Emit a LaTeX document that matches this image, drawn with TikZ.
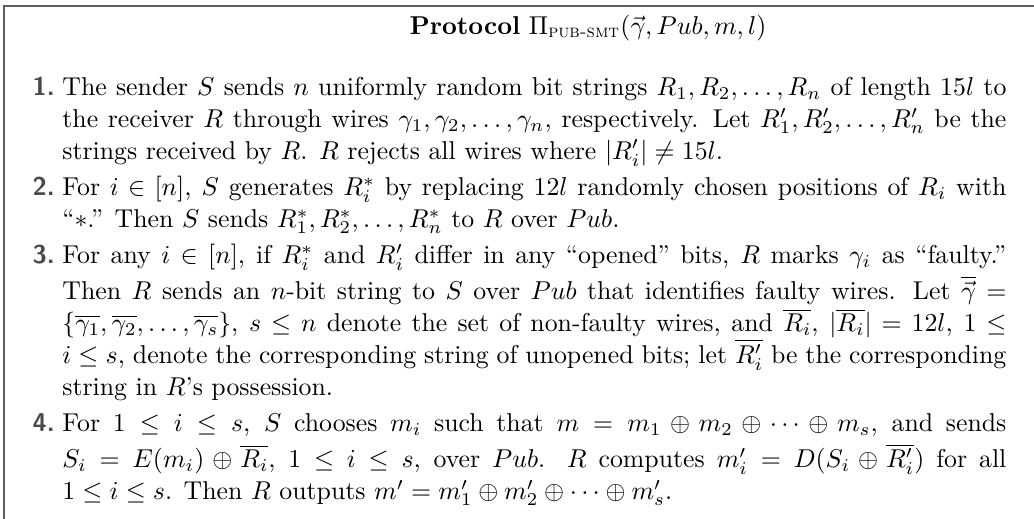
\documentclass[tikz,border=0pt]{standalone}
\usepackage{amsmath}
\usetikzlibrary{positioning}
\definecolor{framegray}{HTML}{5E5E5E}
\definecolor{labelgray}{HTML}{4A4A4A}
\newcommand{\stepnum}[1]{\llap{\textcolor{labelgray}{\textsf{\bfseries #1.}}\hspace{3pt}}}
\newcommand{\pubsmt}{\Pi_{\text{\scshape pub-smt}}}

\begin{document}
\begin{tikzpicture}[
  x=1pt, y=1pt,
  frame/.style={draw=framegray, line width=0.8pt},
  heading/.style={inner sep=0pt, anchor=base},
  stepbox/.style={text width=366pt, align=justify, inner sep=0pt,
                  font=\fontsize{10}{12.4}\selectfont},
  node distance=1.2pt
]
  \useasboundingbox (0,0) rectangle (400.9,-201.2);
  % open frame, runs off the right and bottom
  \draw[frame] (1.55,-300) |- (500,-2.33);

  \node[heading] (title) at (228,-13.2)
    {\textbf{Protocol} $\pubsmt(\vec{\gamma}, Pub, m, l)$};

  \node[stepbox, anchor=north west] (step1) at (24,-28.1)
    {\strut\stepnum{1}The sender $S$ sends $n$ uniformly random bit strings
     $R_1, R_2, \ldots, R_n$ of length $15l$ to the receiver $R$ through wires
     $\gamma_1, \gamma_2, \ldots, \gamma_n$, respectively. Let
     $R'_1, R'_2, \ldots, R'_n$ be the strings received by $R$. $R$ rejects all
     wires where $|R'_i| \neq 15l$.\strut};
  \node[stepbox, below=of step1.south west, anchor=north west] (step2)
    {\strut\stepnum{2}For $i \in [n]$, $S$ generates $R^*_i$ by replacing $12l$
     randomly chosen positions of $R_i$ with ``$*$.'' Then $S$ sends
     $R^*_1, R^*_2, \ldots, R^*_n$ to $R$ over $Pub$.\strut};
  \node[stepbox, below=of step2.south west, anchor=north west] (step3)
    {\strut\stepnum{3}For any $i \in [n]$, if $R^*_i$ and $R'_i$ differ in any
     ``opened'' bits, $R$ marks $\gamma_i$ as ``faulty.'' Then $R$ sends an
     $n$-bit string to $S$ over $Pub$ that identifies faulty wires. Let
     $\overline{\vec{\gamma}} = \{\overline{\gamma_1}, \overline{\gamma_2}, \ldots,
     \overline{\gamma_s}\}$, $s \leq n$ denote the set of non-faulty wires, and
     $\overline{R_i}$, $|\overline{R_i}| = 12l$, $1 \leq i \leq s$, denote the
     corresponding string of unopened bits; let $\overline{R'_i}$ be the
     corresponding string in $R$'s possession.\strut};
  \node[stepbox, below=of step3.south west, anchor=north west] (step4)
    {\strut\stepnum{4}For $1 \leq i \leq s$, $S$ chooses $m_i$ such that
     $m = m_1 \oplus m_2 \oplus \cdots \oplus m_s$, and sends
     $S_i = E(m_i) \oplus \overline{R_i}$, $1 \leq i \leq s$, over $Pub$.
     $R$ computes $m'_i = D(S_i \oplus \overline{R'_i})$ for all
     $1 \leq i \leq s$. Then $R$ outputs
     $m' = m'_1 \oplus m'_2 \oplus \cdots \oplus m'_s$.\strut};
\end{tikzpicture}
\end{document}
